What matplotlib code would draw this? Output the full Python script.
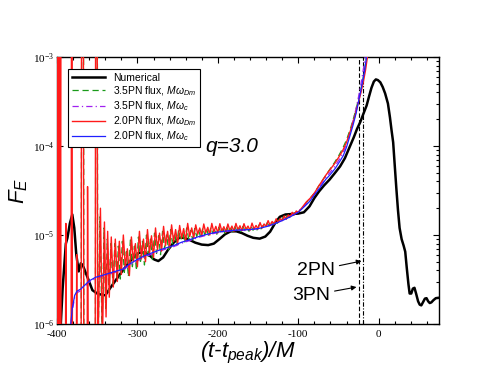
import numpy as np
import matplotlib
matplotlib.use("Agg")
import matplotlib.pyplot as plt
from matplotlib.ticker import MultipleLocator, FixedLocator, FixedFormatter

plt.rcParams['font.family'] = ['Liberation Sans', 'DejaVu Sans']
plt.rcParams['mathtext.fontset'] = 'custom'
plt.rcParams['mathtext.rm'] = 'Liberation Sans:italic'
plt.rcParams['mathtext.it'] = 'Liberation Sans:italic'
plt.rcParams['mathtext.sf'] = 'Liberation Serif'
plt.rcParams['axes.unicode_minus'] = False

# numerical flux (black)
num_t = [-397, -393, -389, -387, -384, -381, -378.5, -376, -373, -370.5, -368, -364, -360, -356,
         -350, -346, -340, -333, -327, -321, -313, -305, -298, -291, -285, -279, -274, -268,
         -262, -255, -248, -242, -235, -228, -220, -212, -205, -198, -191, -184, -177, -170,
         -163, -156, -148, -141, -135, -129, -123, -116, -108, -100, -93, -86, -80, -74, -68,
         -61, -55, -48, -42, -36, -31, -27, -23, -19, -15, -12, -9, -6, -3.5, -1, 2, 5, 8,
         11.5, 14, 16, 18, 20, 22, 24, 26, 28.5, 31, 33, 35, 37, 38.5, 40.5, 42.5, 44.5, 46.5,
         49, 51, 53, 55, 57.5, 59.5, 61.5, 63.5, 65.5, 68, 71, 75]
num_f = [5e-7, 2.5e-6, 8e-6, 9.3e-6, 1.35e-5, 1.7e-5, 1.2e-5, 6e-6, 3.9e-6, 4.8e-6, 4.6e-6,
         3.7e-6, 3.0e-6, 2.4e-6, 2.2e-6, 2.15e-6, 2.1e-6, 2.6e-6, 3.1e-6, 3.7e-6, 4.6e-6,
         5.6e-6, 6.3e-6, 6.4e-6, 5.9e-6, 5.3e-6, 5.1e-6, 5.6e-6, 6.8e-6, 8.2e-6, 9.3e-6,
         9.3e-6, 8.8e-6, 8.2e-6, 7.8e-6, 7.7e-6, 8.0e-6, 9.0e-6, 1.02e-5, 1.1e-5, 1.1e-5,
         1.05e-5, 9.8e-6, 9.3e-6, 9.1e-6, 9.6e-6, 1.09e-5, 1.35e-5, 1.6e-5, 1.7e-5, 1.72e-5,
         1.74e-5, 1.8e-5, 2.1e-5, 2.6e-5, 3.1e-5, 3.6e-5, 4.2e-5, 4.9e-5, 5.9e-5, 7.3e-5,
         9.8e-5, 1.25e-4, 1.55e-4, 1.85e-4, 2.3e-4, 2.85e-4, 3.6e-4, 4.5e-4, 5.3e-4, 5.6e-4,
         5.5e-4, 5.2e-4, 4.6e-4, 3.9e-4, 3.0e-4, 2.1e-4, 1.5e-4, 1.1e-4, 6e-5, 3.3e-5, 1.9e-5,
         1.2e-5, 9e-6, 7.6e-6, 6.5e-6, 4.2e-6, 2.8e-6, 2.2e-6, 2.2e-6, 2.5e-6, 2.55e-6, 2.2e-6,
         1.8e-6, 1.65e-6, 1.62e-6, 1.75e-6, 1.93e-6, 1.95e-6, 1.8e-6, 1.72e-6, 1.75e-6,
         1.85e-6, 1.95e-6, 1.97e-6]

# 2.0PN flux, M omega_c (blue)
pn2c_t = [-384, -381, -378, -375, -371, -366, -360, -352, -340, -330, -319, -310, -302, -292,
          -280, -268, -255, -245, -234, -224, -213, -203, -193, -180, -170, -160, -150, -140,
          -130, -120, -110, -100, -92, -85.5, -79, -73, -66, -60, -54, -48, -44, -40, -36, -32,
          -28, -25, -22, -19.5, -17.3, -15.5, -13.5]
pn2c_f = [8e-7, 1.5e-6, 2.1e-6, 2.35e-6, 2.45e-6, 2.7e-6, 3.05e-6, 3.35e-6, 3.6e-6, 3.85e-6,
          4.1e-6, 4.7e-6, 5.2e-6, 5.8e-6, 6.4e-6, 7.0e-6, 7.6e-6, 8.3e-6, 8.9e-6, 9.6e-6,
          1.02e-5, 1.07e-5, 1.1e-5, 1.13e-5, 1.14e-5, 1.15e-5, 1.18e-5, 1.24e-5, 1.33e-5,
          1.45e-5, 1.6e-5, 1.8e-5, 2.1e-5, 2.4e-5, 2.9e-5, 3.4e-5, 4.2e-5, 4.8e-5, 5.6e-5,
          6.8e-5, 7.8e-5, 9.7e-5, 1.28e-4, 1.7e-4, 2.35e-4, 3.2e-4, 4.3e-4, 5.6e-4, 7.2e-4,
          9.5e-4, 1.3e-3]

# 3.5PN flux, M omega_c (purple)
pn35c_t = [-384, -381, -378, -375, -371, -366, -360, -352, -340, -330, -319, -310, -302, -292,
           -280, -268, -255, -245, -234, -224, -213, -203, -193, -180, -170, -160, -150, -140,
           -130, -120, -110, -100, -92, -85.5, -79, -73, -66, -60, -54, -48, -44, -40, -36,
           -32, -28, -25, -22, -20, -18, -16.5, -14.5]
pn35c_f = [7.5e-7, 1.4e-6, 2.0e-6, 2.25e-6, 2.35e-6, 2.6e-6, 2.95e-6, 3.25e-6, 3.5e-6,
           3.75e-6, 4.0e-6, 4.55e-6, 5.0e-6, 5.6e-6, 6.2e-6, 6.8e-6, 7.4e-6, 8.1e-6, 8.7e-6,
           9.4e-6, 1.0e-5, 1.05e-5, 1.09e-5, 1.12e-5, 1.13e-5, 1.15e-5, 1.18e-5, 1.24e-5,
           1.34e-5, 1.47e-5, 1.63e-5, 1.85e-5, 2.15e-5, 2.5e-5, 3.0e-5, 3.55e-5, 4.4e-5,
           5.1e-5, 6.0e-5, 7.3e-5, 8.5e-5, 1.06e-4, 1.4e-4, 1.9e-4, 2.65e-4, 3.6e-4, 5.0e-4,
           6.4e-4, 8.4e-4, 1.08e-3, 1.5e-3]

# 2.0PN flux, M omega_Dm (red): early spikes, noisy part, late part
pn2d_t_early = [-400, -399.5, -399, -398.5, -398, -397.5, -397, -396.5, -395.5, -395,
                -389.5, -389, -388.5, -382.5, -382, -381.3, -380.8, -376, -375.5, -375,
                -370, -369.5, -367.2, -366.7, -362.5, -362, -361, -352.5, -352, -350, -349.5,
                -346, -343.5, -341, -339, -337, -335, -332.5, -330, -327.5, -325]
pn2d_f_early = [3e-3, 3e-7, 3e-3, 3e-7, 3e-3, 3e-7, 3e-3, 3e-7, 3e-3, 3e-7,
                3e-7, 1.35e-5, 3e-7, 3e-7, 3e-3, 3e-3, 3e-7, 3e-7, 6e-6, 3e-7,
                3e-7, 3e-3, 3e-3, 3e-7, 3e-7, 3.5e-5, 3e-7, 3e-7, 3e-3, 3e-3, 3e-7,
                2e-5, 6e-7, 1.4e-5, 1.2e-6, 1.1e-5, 2e-6, 9.5e-6, 2.6e-6, 9e-6, 3e-6]
pn2d_f_noisy = [8.5e-6, 3.6e-6, 1.0e-5, 4.3e-6, 7.0e-6, 3.5e-6, 9.5e-6, 5.0e-6, 8.0e-6, 4.4e-6,
                1.1e-5, 5.4e-6, 9.0e-6, 5.0e-6, 1.15e-5, 6.2e-6, 9.8e-6, 5.6e-6, 1.2e-5, 6.8e-6,
                1.05e-5, 6.6e-6, 1.25e-5, 7.6e-6, 1.1e-5, 7.2e-6, 1.3e-5, 8.4e-6, 1.15e-5, 8.0e-6,
                1.28e-5, 9.2e-6, 1.18e-5, 8.6e-6, 1.35e-5, 9.6e-6, 1.2e-5, 9.2e-6, 1.3e-5, 1.02e-5,
                1.2e-5, 9.8e-6, 1.33e-5, 1.06e-5, 1.22e-5, 1.0e-5, 1.35e-5, 1.08e-5, 1.25e-5, 1.06e-5,
                1.34e-5, 1.1e-5, 1.24e-5, 1.08e-5, 1.33e-5, 1.12e-5, 1.26e-5, 1.1e-5, 1.35e-5, 1.14e-5,
                1.27e-5, 1.12e-5, 1.34e-5, 1.16e-5, 1.26e-5, 1.13e-5, 1.36e-5, 1.17e-5, 1.28e-5, 1.17e-5,
                1.38e-5, 1.2e-5, 1.33e-5, 1.25e-5, 1.45e-5, 1.28e-5, 1.42e-5, 1.33e-5, 1.52e-5, 1.38e-5,
                1.53e-5, 1.45e-5, 1.64e-5, 1.5e-5, 1.68e-5, 1.6e-5, 1.8e-5, 1.68e-5, 1.86e-5, 1.8e-5]
pn2d_t_noisy = np.arange(-322.5, -99, 2.5)  # sample grid of the noisy stretch
pn2d_t_late = [-95, -90, -85, -80, -75, -70, -65, -60, -55, -50, -45, -40, -35, -30, -26, -22,
               -19, -16.5, -14, -12]
pn2d_f_late = [2.05e-5, 2.35e-5, 2.6e-5, 2.95e-5, 3.5e-5, 4.1e-5, 4.8e-5, 5.5e-5, 6.3e-5,
               7.4e-5, 8.8e-5, 1.1e-4, 1.5e-4, 2.1e-4, 2.9e-4, 4.0e-4, 5.3e-4, 7e-4, 1e-3,
               1.4e-3]

# 3.5PN flux, M omega_Dm (green)
pn35d_t_early = [-400, -399.7, -399.2, -398.9, -398.3, -397.8, -397.2, -396.8,
                 -370, -369.3, -367, -366.5, -352.3, -351.8, -349.8, -349.3,
                 -346.5, -344, -341.5, -339.5, -337.5, -335.5, -333, -330.5, -328, -325.5]
pn35d_f_early = [3e-7, 3e-3, 3e-3, 3e-7, 3e-3, 3e-7, 3e-3, 3e-7,
                 3e-7, 3e-3, 3e-3, 3e-7, 3e-7, 3e-3, 3e-3, 3e-7,
                 1.6e-5, 8e-7, 1.2e-5, 1.5e-6, 9e-6, 2.3e-6, 8e-6, 2.8e-6, 8e-6, 3.2e-6]
pn35d_f_noisy = [7.5e-6, 3.2e-6, 8.5e-6, 3.8e-6, 6.5e-6, 3.4e-6, 8.8e-6, 4.4e-6, 7.5e-6, 4.0e-6,
                 9.5e-6, 4.8e-6, 8.5e-6, 4.6e-6, 1.0e-5, 5.6e-6, 9.0e-6, 5.2e-6, 1.05e-5, 6.2e-6,
                 9.8e-6, 6.0e-6, 1.1e-5, 7.0e-6, 1.0e-5, 6.8e-6, 1.15e-5, 7.8e-6, 1.05e-5, 7.6e-6,
                 1.15e-5, 8.6e-6, 1.1e-5, 8.2e-6, 1.2e-5, 9.0e-6, 1.12e-5, 8.8e-6, 1.18e-5, 9.6e-6,
                 1.12e-5, 9.4e-6, 1.2e-5, 1.0e-5, 1.15e-5, 9.6e-6, 1.22e-5, 1.04e-5, 1.17e-5, 1.02e-5,
                 1.22e-5, 1.06e-5, 1.17e-5, 1.04e-5, 1.22e-5, 1.08e-5, 1.19e-5, 1.07e-5, 1.24e-5, 1.1e-5,
                 1.2e-5, 1.09e-5, 1.25e-5, 1.12e-5, 1.2e-5, 1.1e-5, 1.26e-5, 1.13e-5, 1.22e-5, 1.14e-5,
                 1.3e-5, 1.17e-5, 1.28e-5, 1.22e-5, 1.37e-5, 1.26e-5, 1.38e-5, 1.3e-5, 1.46e-5, 1.35e-5,
                 1.5e-5, 1.42e-5, 1.6e-5, 1.48e-5, 1.65e-5, 1.57e-5, 1.75e-5, 1.66e-5, 1.83e-5, 1.77e-5]
pn35d_t_noisy = np.arange(-323.75, -100, 2.5)
pn35d_t_late = [-95, -90, -85, -80, -75, -70, -65, -60, -55, -50, -45, -40, -35, -30, -26,
                -22, -19, -16.5, -14.5, -13]
pn35d_f_late = [2.0e-5, 2.3e-5, 2.6e-5, 2.95e-5, 3.5e-5, 4.1e-5, 4.8e-5, 5.6e-5, 6.5e-5,
                7.7e-5, 9.3e-5, 1.17e-4, 1.58e-4, 2.25e-4, 3.1e-4, 4.4e-4, 6e-4, 8.3e-4,
                1.1e-3, 1.4e-3]

vline_2pn = -24.5
vline_3pn = -19.5

legend_labels = ['Numerical', r'3.5PN flux, $M\omega_{Dm}$', r'3.5PN flux, $M\omega_c$',
                 r'2.0PN flux, $M\omega_{Dm}$', r'2.0PN flux, $M\omega_c$']
ytick_vals = [1e-6, 1e-5, 1e-4, 1e-3]
ytick_labels = [r'$\mathsf{10^{-6}}$', r'$\mathsf{10^{-5}}$', r'$\mathsf{10^{-4}}$',
                r'$\mathsf{10^{-3}}$']

fig = plt.figure(figsize=(4.94, 3.82), dpi=100)
ax = fig.add_axes([57/494, 1-324/382, 382/494, 267/382])

l_num, = ax.plot(num_t, num_f, color='black', lw=1.8, zorder=2)
l_35d, = ax.plot(np.concatenate([pn35d_t_early, pn35d_t_noisy, pn35d_t_late]),
                 np.concatenate([pn35d_f_early, pn35d_f_noisy, pn35d_f_late]),
                 color='#1a9a1a', lw=0.9, dashes=(5, 3), zorder=3)
l_35c, = ax.plot(pn35c_t, pn35c_f, color='#a020f0', lw=0.9, dashes=(5, 2.5, 1, 2.5), zorder=4)
l_2d, = ax.plot(np.concatenate([pn2d_t_early, pn2d_t_noisy, pn2d_t_late]),
                np.concatenate([pn2d_f_early, pn2d_f_noisy, pn2d_f_late]),
                color='#ff1a1a', lw=1.0, zorder=5)
l_2c, = ax.plot(pn2c_t, pn2c_f, color='#2020ff', lw=0.9, zorder=6)

ax.axvline(vline_2pn, color='black', lw=0.8, ls=(0, (4, 2)), zorder=1)
ax.axvline(vline_3pn, color='black', lw=0.8, ls=(0, (4, 1.5, 1, 1.5)), zorder=1)

ax.set_yscale('log')
ax.set_xlim(-400, 75)
ax.set_ylim(1e-6, 1e-3)

ax.xaxis.set_major_locator(MultipleLocator(100))
ax.xaxis.set_minor_locator(MultipleLocator(20))
ax.yaxis.set_major_locator(FixedLocator(ytick_vals))
ax.yaxis.set_major_formatter(FixedFormatter(ytick_labels))
ax.tick_params(which='both', direction='in', top=True, right=True)
ax.tick_params(which='major', length=4.5, width=0.8)
ax.tick_params(which='minor', length=2.5, width=0.8)
ax.tick_params(axis='x', labelsize=8, pad=4)
ax.tick_params(axis='y', labelsize=8, pad=2)
for lab in ax.get_xticklabels():
    lab.set_family('Liberation Serif')
for sp in ax.spines.values():
    sp.set_linewidth(1.0)

ax.set_xlabel(r'$(t$-$t_{peak})/M$', fontsize=16, fontstyle='italic')
ax.xaxis.set_label_coords(0.5, -0.06)
ax.xaxis.label.set_va('top')
ax.set_ylabel(r'$F_E$', fontsize=16)
ax.yaxis.set_label_coords(-0.07, 0.5)

ax.text(-216, 1e-4, 'q=3.0', fontsize=15, fontstyle='italic', ha='left', va='center')

ax.annotate('2PN', xy=(-21.4, 5.1e-6), xytext=(-54, 4.0e-6), fontsize=14,
            ha='right', va='center',
            arrowprops=dict(arrowstyle='-|>', color='black', lw=0.8, mutation_scale=7,
                            shrinkA=1, shrinkB=0))
ax.annotate('3PN', xy=(-27.6, 2.6e-6), xytext=(-60, 2.1e-6), fontsize=14,
            ha='right', va='center',
            arrowprops=dict(arrowstyle='-|>', color='black', lw=0.8, mutation_scale=7,
                            shrinkA=1, shrinkB=0))

leg = ax.legend([l_num, l_35d, l_35c, l_2d, l_2c], legend_labels, loc='upper left',
                bbox_to_anchor=(0.029, 0.955), borderaxespad=0, fontsize=7.5,
                frameon=True, fancybox=False, framealpha=1, edgecolor='black',
                handlelength=3.2, handletextpad=0.8, labelspacing=0.15, borderpad=0.35)
leg.get_frame().set_linewidth(0.8)

fig.savefig('out.png', dpi=100)
